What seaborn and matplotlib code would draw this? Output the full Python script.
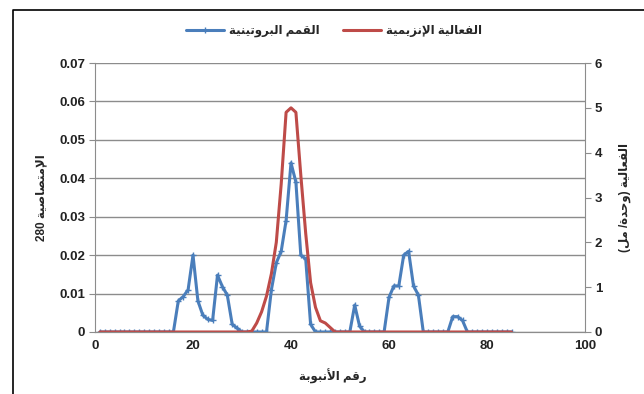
import re
import numpy as np
import pandas as pd
import matplotlib
matplotlib.use('Agg')
import matplotlib.pyplot as plt
from matplotlib.lines import Line2D
import seaborn as sns

# fractions (tube number) and the two measured series
fractions = list(range(1, 86))
protein = [0] * 16 + [0.0081, 0.0092, 0.011, 0.020, 0.0081, 0.0044, 0.0033, 0.0030,
                      0.0148, 0.0118, 0.0096, 0.0020, 0.0010] \
    + [0] * 6 + [0.011, 0.018, 0.021, 0.029, 0.044, 0.039, 0.020, 0.019, 0.002] \
    + [0] * 8 + [0.007, 0.0015] + [0] * 5 \
    + [0.009, 0.012, 0.012, 0.020, 0.021, 0.012, 0.0096] + [0] * 6 \
    + [0.004, 0.004, 0.003] + [0] * 10
activity = [0] * 31 + [0.02, 0.2, 0.45, 0.8, 1.3, 2.0, 3.3, 4.9, 5.0, 4.9, 3.5, 2.2,
                       1.1, 0.55, 0.25, 0.2, 0.1] + [0] * 37

label_protein = 'القمم البروتينية'
label_activity = 'الفعالية الإنزيمية'
label_x = 'رقم الأنبوبة'
label_left = 'الإمتصاصية 280'
label_right = 'الفعالية (وحدة/ مل)'

# small arabic shaper: matplotlib does no joining / bidi on its own
BASE = {'آ': 0xFE81, 'أ': 0xFE83, 'ؤ': 0xFE85, 'إ': 0xFE87, 'ئ': 0xFE89, 'ا': 0xFE8D,
        'ب': 0xFE8F, 'ة': 0xFE93, 'ت': 0xFE95, 'ث': 0xFE99, 'ج': 0xFE9D, 'ح': 0xFEA1,
        'خ': 0xFEA5, 'د': 0xFEA9, 'ذ': 0xFEAB, 'ر': 0xFEAD, 'ز': 0xFEAF, 'س': 0xFEB1,
        'ش': 0xFEB5, 'ص': 0xFEB9, 'ض': 0xFEBD, 'ط': 0xFEC1, 'ظ': 0xFEC5, 'ع': 0xFEC9,
        'غ': 0xFECD, 'ف': 0xFED1, 'ق': 0xFED5, 'ك': 0xFED9, 'ل': 0xFEDD, 'م': 0xFEE1,
        'ن': 0xFEE5, 'ه': 0xFEE9, 'و': 0xFEED, 'ى': 0xFEEF, 'ي': 0xFEF1}
RIGHT_ONLY = set('آأؤإادذرزوةى')
LAM_ALEF = {'آ': 0xFEF5, 'أ': 0xFEF7, 'إ': 0xFEF9, 'ا': 0xFEFB}


def ar(text):
    units = []
    i = 0
    while i < len(text):
        c = text[i]
        if c == 'ل' and i + 1 < len(text) and text[i + 1] in LAM_ALEF:
            units.append((LAM_ALEF[text[i + 1]], False, True))
            i += 2
            continue
        if c in BASE:
            units.append((BASE[c], c not in RIGHT_ONLY, True))
        else:
            units.append((c, False, False))
        i += 1
    out = []
    for k, (g, dual, arab) in enumerate(units):
        if not arab:
            out.append(g)
            continue
        prev = k > 0 and units[k - 1][2] and units[k - 1][1]
        nxt = dual and k + 1 < len(units) and units[k + 1][2]
        off = 3 if (prev and nxt) else 1 if prev else 2 if nxt else 0
        out.append(chr(g + off))
    s = ''.join(out)
    runs = re.findall(r'[0-9.]+|[^0-9.]+', s)
    vis = []
    for r in reversed(runs):
        if r[0].isdigit():
            vis.append(r)
        else:
            vis.append(r[::-1].translate(str.maketrans('()', ')(')))
    return ''.join(vis)


sns.set_style('white')
plt.rcParams['font.family'] = ['Liberation Sans', 'DejaVu Sans']

df = pd.DataFrame({'fraction': fractions, 'protein': protein, 'activity': activity})

blue = '#4A7EBB'
red = '#BE4B48'
grid = '#8C8C8C'

fig = plt.figure(figsize=(6.44, 3.94), dpi=100)
ax = fig.add_axes([95 / 644, 62 / 394, 490 / 644, 269 / 394])
ax2 = ax.twinx()

sns.lineplot(data=df, x='fraction', y='protein', ax=ax, color=blue, lw=2.2,
             marker='+', markersize=4, markeredgewidth=1, markeredgecolor=blue, zorder=3)
sns.lineplot(data=df, x='fraction', y='activity', ax=ax2, color=red, lw=2.2, zorder=2)

ax.set_xlim(0, 100)
ax.set_ylim(0, 0.07)
ax2.set_ylim(0, 6)
ax.set_xticks(range(0, 101, 20))
ax.set_yticks(np.arange(0, 0.0701, 0.01))
ax.set_yticklabels(['0', '0.01', '0.02', '0.03', '0.04', '0.05', '0.06', '0.07'])
ax2.set_yticks(range(0, 7))

ax.yaxis.grid(True, color=grid, lw=1)
ax.set_axisbelow(True)
for a in (ax, ax2):
    a.spines['top'].set_visible(False)
    for side in ('left', 'right', 'bottom'):
        a.spines[side].set_color(grid)
    a.tick_params(length=4, color=grid, labelsize=9.5, pad=3)
    for t in a.get_xticklabels() + a.get_yticklabels():
        t.set_fontweight('bold')
        t.set_color('#222222')
ax.tick_params(axis='x', direction='inout', length=5)
ax.tick_params(axis='y', left=True, direction='out')
ax2.tick_params(axis='y', right=True, direction='out')
ax2.spines['left'].set_visible(False)
ax.spines['right'].set_visible(False)

ax.set_xlabel(ar(label_x), fontsize=8.5, fontweight='bold')
ax.xaxis.set_label_coords(0.485, -0.135)
ax.set_ylabel(ar(label_left), fontsize=8.5, fontweight='bold')
ax.yaxis.set_label_coords(-0.097, 0.5)
ax2.set_ylabel(ar(label_right), fontsize=8.5, fontweight='bold', rotation=90)
ax2.yaxis.set_label_coords(1.068, 0.5)

handles = [Line2D([], [], color=blue, lw=2.2, marker='+', markersize=4),
           Line2D([], [], color=red, lw=2.2)]
fig.legend(handles, [ar(label_protein), ar(label_activity)], loc='center',
           bbox_to_anchor=(334 / 644, 1 - 31 / 394), ncol=2, frameon=False,
           prop={'size': 8.5, 'weight': 'bold'}, handlelength=3.2, columnspacing=2.0,
           handletextpad=0.4)

# chart area border (left and top edges visible in the reference)
fig.add_artist(Line2D([13 / 644, 13 / 644, 1], [0, 1 - 10 / 394, 1 - 10 / 394],
                      transform=fig.transFigure, color='black', lw=1.2))

fig.savefig('out.png', dpi=100, facecolor='white')
